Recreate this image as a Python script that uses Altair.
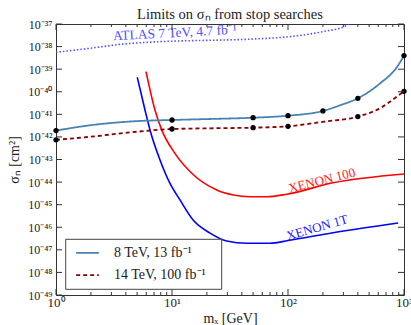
import altair as alt
import pandas as pd

FONT = "Liberation Serif"

# 8 TeV, 13 fb^-1 curve (log10 sigma in cm^2)
m8 = [1, 2, 5, 10, 20, 50, 100, 200, 281, 400, 621, 865, 1000]
e8 = [-41.72, -41.48, -41.30, -41.25, -41.21, -41.15, -41.06, -40.85, -40.60, -40.29, -39.63, -38.92, -38.40]
m8_dots = [1, 10, 50, 100, 200, 400, 1000]
e8_dots = [-41.72, -41.25, -41.15, -41.06, -40.85, -40.29, -38.40]

# 14 TeV, 100 fb^-1 curve
m14 = [1, 2, 5, 10, 20, 50, 100, 200, 400, 621, 865, 1000]
e14 = [-42.13, -41.99, -41.77, -41.65, -41.62, -41.59, -41.53, -41.33, -41.10, -40.73, -40.22, -39.98]
m14_dots = [1, 10, 50, 100, 400, 1000]
e14_dots = [-42.13, -41.65, -41.59, -41.53, -41.10, -39.98]

# ATLAS 7 TeV, 4.7 fb^-1
m_atlas = [1, 1.94, 3.76, 7.28, 14, 27.4, 53, 103, 199, 316, 400]
e_atlas = [-38.25, -38.08, -37.89, -37.79, -37.74, -37.71, -37.66, -37.56, -37.34, -37.08, -36.6]

# XENON 100
m_x100 = [5.97, 7.13, 8.15, 10.6, 14.8, 24.3, 33.7, 47, 65.5, 97.4, 244, 1000]
e_x100 = [-39.11, -40.81, -41.69, -42.73, -43.61, -44.35, -44.57, -44.65, -44.65, -44.54, -44.03, -43.64]

# XENON 1T
m_x1t = [5.02, 5.85, 6.46, 7.88, 9.61, 11.72, 15.2, 21.3, 29.6, 44, 70, 100, 244, 890]
e_x1t = [-39.36, -40.81, -41.69, -43.02, -44.06, -44.79, -45.68, -46.26, -46.61, -46.71, -46.71, -46.59, -46.24, -45.81]

series_names = ["8 TeV, 13 fb\u207b\u00b9", "14 TeV, 100 fb\u207b\u00b9"]

# axes ticks
x_major = [1, 10, 100, 1000]
x_major_labels = ["10\u2070", "10\u00b9", "10\u00b2", "10\u00b3"]
x_minor = [k * 10 ** d for d in range(3) for k in range(2, 10)]
y_exps = list(range(-49, -36))
sup = str.maketrans("-0123456789", "\u207b\u2070\u00b9\u00b2\u00b3\u2074\u2075\u2076\u2077\u2078\u2079")
y_labels = ["10" + str(e).translate(sup) for e in y_exps]

W, H = 348, 271


def frame(ms, es, **extra):
    d = pd.DataFrame({"m": ms, "sigma": [10.0 ** e for e in es]})
    for k, v in extra.items():
        d[k] = v
    return d


lhc = pd.concat([frame(m8, e8, series=series_names[0]),
                 frame(m14, e14, series=series_names[1])])
dots = pd.concat([frame(m8_dots, e8_dots), frame(m14_dots, e14_dots)])
atlas = frame(m_atlas, e_atlas)
x100 = frame(m_x100, e_x100)
x1t = frame(m_x1t, e_x1t)

xscale = alt.Scale(type="log", domain=[1, 1000], nice=False)
yscale = alt.Scale(type="log", domain=[1e-49, 1e-37], nice=False)

xlabel_expr = str(x_major_labels) + "[round(log(datum.value)/LN10)]"
ylabel_expr = str(y_labels) + "[round(log(datum.value)/LN10)+49]"

xaxis = alt.Axis(values=x_major, labelExpr=xlabel_expr, title="m\u2093 [GeV]",
                 ticks=False, domain=False, grid=False, labelFlush=False,
                 labelOverlap=False, labelPadding=1, labelFontSize=13,
                 titleFontSize=14, titlePadding=2)
yaxis = alt.Axis(values=[10.0 ** e for e in y_exps], labelExpr=ylabel_expr,
                 title="\u03c3\u2099 [cm\u00b2]", ticks=False, domain=False,
                 grid=False, labelFlush=False, labelOverlap=False,
                 labelPadding=4, labelFontSize=12, titleFontSize=14,
                 titlePadding=6)

X = alt.X("m:Q", scale=xscale, axis=xaxis)
Y = alt.Y("sigma:Q", scale=yscale, axis=yaxis)

atlas_line = alt.Chart(atlas).mark_line(
    color="#5050ff", strokeWidth=1.6, strokeDash=[1.5, 2], interpolate="monotone", clip=True
).encode(x=X, y=Y)

x100_line = alt.Chart(x100).mark_line(
    color="#ff0000", strokeWidth=1.6, interpolate="monotone", clip=True
).encode(x=X, y=Y)

x1t_line = alt.Chart(x1t).mark_line(
    color="#0000ff", strokeWidth=1.6, interpolate="monotone", clip=True
).encode(x=X, y=Y)

lhc_lines = alt.Chart(lhc).mark_line(
    strokeWidth=1.8, interpolate="monotone", clip=True
).encode(
    x=X, y=Y,
    color=alt.Color("series:N", scale=alt.Scale(domain=series_names, range=["#4682b4", "#8b0000"]),
                    legend=alt.Legend(title=None)),
    strokeDash=alt.StrokeDash("series:N", scale=alt.Scale(domain=series_names, range=[[1, 0], [4, 3]]),
                              legend=alt.Legend(title=None)),
)

dot_layer = alt.Chart(dots).mark_circle(color="black", size=28, opacity=1).encode(x=X, y=Y)

labels = pd.DataFrame({
    "m": [10.6, 196, 178],
    "sigma": [10 ** -37.40, 10 ** -43.93, 10 ** -46.02],
    "text": ["ATLAS 7 TeV, 4.7 fb\u207b\u00b9", "XENON 100", "XENON 1T"],
})
lab_atlas = alt.Chart(labels.iloc[[0]]).mark_text(
    font=FONT, fontSize=13.5, color="#5050ff", angle=357, align="center", baseline="middle"
).encode(x=X, y=Y, text="text:N")
lab_x100 = alt.Chart(labels.iloc[[1]]).mark_text(
    font=FONT, fontSize=13, color="#ff2020", angle=346, align="center", baseline="middle"
).encode(x=X, y=Y, text="text:N")
lab_x1t = alt.Chart(labels.iloc[[2]]).mark_text(
    font=FONT, fontSize=13, color="#2020ff", angle=344, align="center", baseline="middle"
).encode(x=X, y=Y, text="text:N")

# legend frame (drawn above the curves, below the legend entries)
legend_box = alt.Chart(pd.DataFrame({"k": [0]})).mark_rect(
    fill="white", stroke="#444444", strokeWidth=1
).encode(x=alt.value(9.7), x2=alt.value(165.7), y=alt.value(215.3), y2=alt.value(265.3))

# inward ticks on all four sides
xmaj = pd.DataFrame({"m": x_major})
xmin = pd.DataFrame({"m": x_minor})
ymaj = pd.DataFrame({"sigma": [10.0 ** e for e in y_exps]})
tick_col = "#333333"
ticks = [
    alt.Chart(xmaj).mark_rule(color=tick_col).encode(x=X, y=alt.value(H), y2=alt.value(H - 6)),
    alt.Chart(xmaj).mark_rule(color=tick_col).encode(x=X, y=alt.value(0), y2=alt.value(6)),
    alt.Chart(xmin).mark_rule(color=tick_col).encode(x=X, y=alt.value(H), y2=alt.value(H - 3)),
    alt.Chart(xmin).mark_rule(color=tick_col).encode(x=X, y=alt.value(0), y2=alt.value(3)),
    alt.Chart(ymaj).mark_rule(color=tick_col).encode(y=Y, x=alt.value(0), x2=alt.value(6)),
    alt.Chart(ymaj).mark_rule(color=tick_col).encode(y=Y, x=alt.value(W), x2=alt.value(W - 6)),
]

chart = alt.layer(
    atlas_line, x100_line, x1t_line, lhc_lines, dot_layer, lab_atlas, lab_x100, lab_x1t,
    *ticks, legend_box
).properties(
    width=W, height=H,
    autosize=alt.AutoSizeParams(type="none"),
    padding={"left": 56, "top": 24, "right": 7, "bottom": 30},
    title=alt.TitleParams("Limits on \u03c3\u2099 from stop searches", font=FONT, fontSize=14.5,
                          fontWeight="normal", color="#222222", offset=-4),
).configure_view(
    stroke="#333333", strokeWidth=1
).configure_axis(
    labelFont=FONT, titleFont=FONT, labelColor="#222222", titleColor="#222222",
    titleFontWeight="normal"
).configure_legend(
    orient="none", legendX=19, legendY=216.3, padding=0, strokeColor="transparent",
    labelFont=FONT, labelFontSize=14, labelColor="#222222",
    symbolType="stroke", symbolSize=515, symbolStrokeWidth=1.8, rowPadding=2.3,
    labelOffset=14, cornerRadius=0
)

chart.save("out.html", embed_options={"renderer": "svg", "actions": False})
